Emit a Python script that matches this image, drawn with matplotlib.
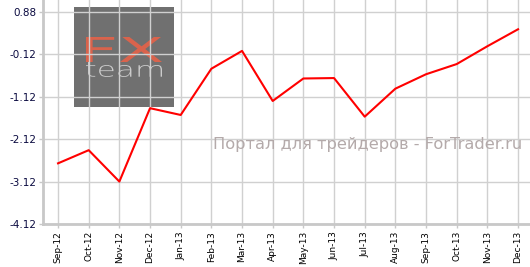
import matplotlib
matplotlib.use('Agg')
import matplotlib.pyplot as plt
from matplotlib.patches import Rectangle, PathPatch
from matplotlib.textpath import TextPath
from matplotlib.font_manager import FontProperties
from matplotlib.transforms import Affine2D

months = ['Sep-12', 'Oct-12', 'Nov-12', 'Dec-12', 'Jan-13', 'Feb-13', 'Mar-13', 'Apr-13',
          'May-13', 'Jun-13', 'Jul-13', 'Aug-13', 'Sep-13', 'Oct-13', 'Nov-13', 'Dec-13']
values = [-2.69, -2.38, -3.12, -1.39, -1.55, -0.46, -0.04, -1.22,
          -0.69, -0.68, -1.59, -0.93, -0.59, -0.35, 0.07, 0.47]
yticks = [0.88, -0.12, -1.12, -2.12, -3.12, -4.12]

W, H = 530, 267
fig = plt.figure(figsize=(W / 100, H / 100), dpi=100)
ax = fig.add_axes([43 / W, 43 / H, 1 - 43 / W, 1 - 43 / H])

x = list(range(len(months)))
ax.plot(x, values, color='#ff0000', lw=1.5, zorder=4)

ax.set_xlim(-0.49, len(months) - 1 + 0.39)
ax.set_ylim(-4.12, 1.16)
ax.set_xticks(x)
ax.set_xticklabels(months, rotation=90, fontsize=6.5, color='#000000')
ax.set_yticks(yticks)
ax.set_yticklabels([f'{v:.2f}' for v in yticks], fontsize=7.5, color='#0a0a40')
ax.tick_params(axis='both', length=3, width=1, color='#c8c8c8', pad=2)

ax.grid(True, color='#d0d0d0', lw=1, zorder=2)
for s in ['top', 'right']:
    ax.spines[s].set_visible(False)
for s in ['left', 'bottom']:
    ax.spines[s].set_color('#c8c8c8')
    ax.spines[s].set_linewidth(2)


def logo_text(s, x0, y0, x1, y1, color, weight='normal'):
    # stretch the text to a pixel box (top-left origin)
    tp = TextPath((0, 0), s, size=10, prop=FontProperties(family='DejaVu Sans', weight=weight))
    ext = tp.get_extents()
    sx = (x1 - x0) / ext.width
    sy = (y1 - y0) / ext.height
    tr = (Affine2D().translate(-ext.x0, -ext.y0).scale(sx, sy)
          .translate(x0, H - y1).scale(1 / W, 1 / H))
    ax.add_patch(PathPatch(tr.transform_path(tp), transform=fig.transFigure,
                           facecolor=color, edgecolor='none', zorder=1, clip_on=False))


# logo box, drawn under the grid
ax.add_patch(Rectangle((74 / W, 1 - 107 / H), 100 / W, 100 / H,
                       transform=fig.transFigure, facecolor='#707070', edgecolor='none',
                       zorder=0.2, clip_on=False))
logo_text('FX', 86, 37, 162, 62, '#d9634c')
logo_text('team', 86, 62, 162, 77, '#cccccc', weight='light')
for gl in ax.get_xgridlines() + ax.get_ygridlines():
    gl.set_zorder(1.5)

fig.text(368 / W, 1 - 145 / H, 'Портал для трейдеров - ForTrader.ru', fontsize=11.7,
         color='#b4aaaa', ha='center', va='center', zorder=5)

fig.savefig('out.png', dpi=100)
